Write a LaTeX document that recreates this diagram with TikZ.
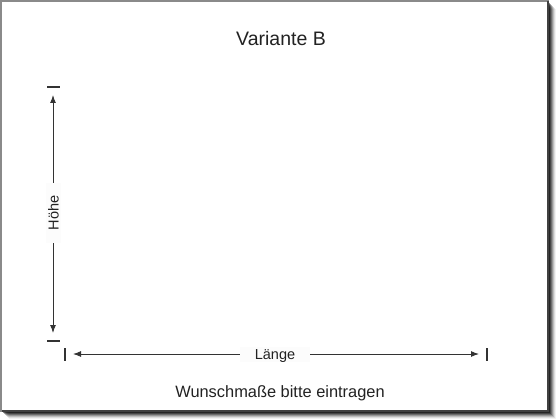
\documentclass[tikz,border=0pt]{standalone}
\usepackage{fontspec}
\setmainfont{Liberation Sans}
\usetikzlibrary{arrows.meta}
\definecolor{ink}{HTML}{222222}
\definecolor{linec}{HTML}{333333}
\definecolor{framec}{HTML}{8A8A8A}
\tikzset{
  dim/.style={draw=linec, line width=1pt, -{Latex[length=8pt,width=6pt]}},
  tick/.style={draw=linec, line width=1.1pt},
  dimlabel/.style={font=\fontsize{14.5}{16}\selectfont, text=ink, fill=black!1, inner sep=0pt, text height=11pt, text depth=0pt},
}
\begin{document}
\begin{tikzpicture}[x=1pt,y=-1pt]
\useasboundingbox (0,0) rectangle (560,420);
\fill[white] (0,0) rectangle (560,420);
% shadow
\foreach \i/\o in {1/0.55,2/0.45,3/0.35,4/0.27,5/0.2,6/0.14,7/0.09,8/0.05}{
  \fill[black, opacity=\o] (548,1+\i) rectangle (548+\i,411+\i);
  \fill[black, opacity=\o] (1+\i,411) rectangle (548,411+\i);
}
\fill[white] (1,1) rectangle (548,411);
\draw[framec, line width=1.2pt] (1,1) rectangle (548,411);
\draw[black!75, line width=1.4pt] (548,1.5) -- (548,411) -- (1.5,411);
% title
\node[font=\fontsize{19.5}{22}\selectfont, text=ink, anchor=base] (title) at (281,46) {Variante B};
% vertical dimension
\node[dimlabel, rotate=90, minimum width=60pt, minimum height=15pt] (vlabel) at (53,213) {Höhe};
\coordinate (vtop) at (53,95);
\coordinate (vbot) at (53,333);
\draw[dim] (vlabel.east) -- (vtop);
\draw[dim] (vlabel.west) -- (vbot);
\draw[tick] (47,87) -- (60,87);
\draw[tick] (47,341) -- (60,341);
% horizontal dimension
\node[dimlabel, minimum width=70pt, minimum height=15pt] (hlabel) at (275,354) {Länge};
\coordinate (hleft) at (73,354);
\coordinate (hright) at (479,354);
\draw[dim] (hlabel.west) -- (hleft);
\draw[dim] (hlabel.east) -- (hright);
\draw[tick] (65,348) -- (65,361);
\draw[tick] (487,348) -- (487,361);
% footer
\node[font=\fontsize{16.4}{19}\selectfont, text=ink, anchor=base] (wish) at (280,397) {Wunschmaße bitte eintragen};
\end{tikzpicture}
\end{document}
